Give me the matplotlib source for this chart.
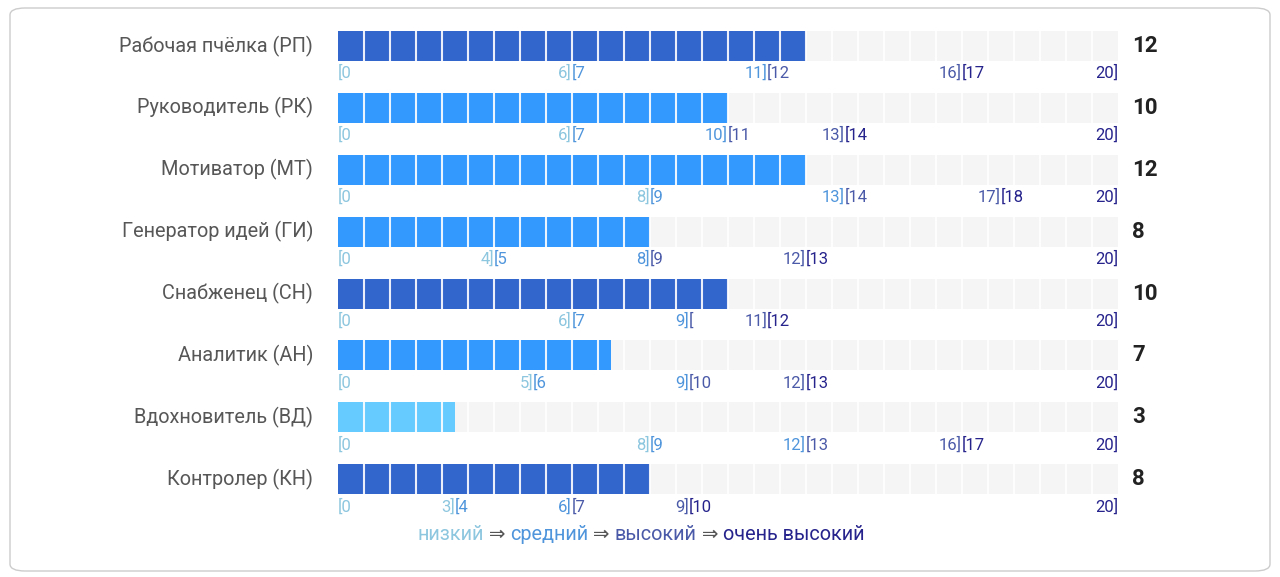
import matplotlib
matplotlib.use("Agg")
import matplotlib.pyplot as plt
from matplotlib.patches import FancyBboxPatch
import numpy as np

plt.rcParams['font.family'] = ['Roboto', 'DejaVu Sans']

# ---------------- data ----------------
categories = ["Рабочая пчёлка (РП)", "Руководитель (РК)", "Мотиватор (МТ)",
              "Генератор идей (ГИ)", "Снабженец (СН)", "Аналитик (АН)",
              "Вдохновитель (ВД)", "Контролер (КН)"]
scores = [12, 10, 12, 8, 10, 7, 3, 8]
max_score = 20
# upper bounds of low / medium / high levels (very high ends at 20)
low_end = [6, 6, 8, 4, 6, 5, 8, 3]
mid_end = [11, 10, 13, 8, 9, 9, 12, 6]
high_end = [16, 13, 17, 12, 11, 12, 16, 9]
# text of level starts (medium, high, very high)
mid_start_lbl = ["7", "7", "9", "5", "7", "6", "9", "4"]
high_start_lbl = ["12", "11", "14", "9", "", "10", "13", "7"]
vhigh_start_lbl = ["17", "14", "18", "13", "12", "13", "17", "10"]
legend_words = ["низкий", "средний", "высокий", "очень высокий"]

# ---------------- style ----------------
bar_colors = ["#66CCFF", "#3399FF", "#3366CC", "#1f2f99"]
text_colors = ["#8cc6df", "#4f95dc", "#4b5aa8", "#26238c"]
track_color = "#f5f5f5"
n_segments = 30

W, H = 1280, 577
fig = plt.figure(figsize=(W / 100, H / 100), dpi=100)
fig.patch.set_facecolor("white")

card = FancyBboxPatch((10 / W, 6 / H), 1260 / W, 563 / H,
                      boxstyle="round,pad=0,rounding_size=0.012",
                      transform=fig.transFigure, facecolor="white",
                      edgecolor="#cccccc", linewidth=1.0, zorder=-5)
fig.patches.append(card)

x0, x1 = 338, 1118
row0, row_step = 46, 61.9
ax = fig.add_axes([x0 / W, 0, (x1 - x0) / W, 1])
ax.set_zorder(5)
ax.patch.set_visible(False)
ax.set_xlim(0, max_score)
ax.set_ylim((H - row0) / row_step, -row0 / row_step)
ax.axis("off")

bar_h = 30 / row_step


def level_of(s, i):
    if s <= low_end[i]:
        return 0
    if s <= mid_end[i]:
        return 1
    if s <= high_end[i]:
        return 2
    return 3


seg_w = max_score / n_segments
y = np.arange(len(categories))
ax.barh(y, [max_score] * len(y), height=bar_h, color=track_color, zorder=1)
ax.barh(y, scores, height=bar_h,
        color=[bar_colors[level_of(s, i)] for i, s in enumerate(scores)], zorder=2)
seg_x = np.arange(1, n_segments) * seg_w
for i in y:
    ax.vlines(seg_x, i - bar_h / 2, i + bar_h / 2, colors="white",
              linewidth=1.5, alpha=0.9, zorder=3)

lbl_fs = 12
lbl_off = 27 / row_step
for i in y:
    yy = i + lbl_off
    ax.text(0, yy, "[0", ha="left", va="center", fontsize=lbl_fs, color=text_colors[0])
    ends = [low_end[i], mid_end[i], high_end[i]]
    starts = [mid_start_lbl[i], high_start_lbl[i], vhigh_start_lbl[i]]
    for k in range(3):
        ax.text(ends[k], yy, f"{ends[k]}]", ha="right", va="center",
                fontsize=lbl_fs, color=text_colors[k])
        ax.text(ends[k], yy, f"[{starts[k]}", ha="left", va="center",
                fontsize=lbl_fs, color=text_colors[k + 1])
    ax.text(max_score, yy, f"{max_score}]", ha="right", va="center",
            fontsize=lbl_fs, color=text_colors[3])
    # category
    ax.text(-25 / 39, i, categories[i], ha="right", va="center",
            fontsize=14.3, color="#575757")
    # score
    ax.text(max_score + 14 / 39, i, str(scores[i]), ha="left", va="center",
            fontsize=16, fontweight="bold", color="#222222")

# legend
leg_y = (535 - row0) / row_step
pieces = []
for k, w in enumerate(legend_words):
    pieces.append((w, text_colors[k]))
    if k < len(legend_words) - 1:
        pieces.append((" ⇒ ", "#555555"))

leg_fs = 14.3
first = ax.text(0, leg_y, pieces[0][0], ha="left", va="center",
                fontsize=leg_fs, color=pieces[0][1])
texts = [first]
prev = first
for s, c in pieces[1:]:
    t = ax.annotate(s, xy=(1, 0), xycoords=prev, xytext=(0, 0),
                    textcoords="offset points", ha="left", va="bottom",
                    fontsize=leg_fs, color=c)
    texts.append(t)
    prev = t

fig.canvas.draw()
r = fig.canvas.get_renderer()
bbs = [t.get_window_extent(r) for t in texts]
left = min(b.x0 for b in bbs)
right = max(b.x1 for b in bbs)
center_px = 641
shift_px = center_px - (left + right) / 2
inv = ax.transData.inverted()
x_left_data = inv.transform((left + shift_px, 0))[0]
first.set_x(x_left_data)

fig.savefig("out.png", dpi=100, facecolor="white")
